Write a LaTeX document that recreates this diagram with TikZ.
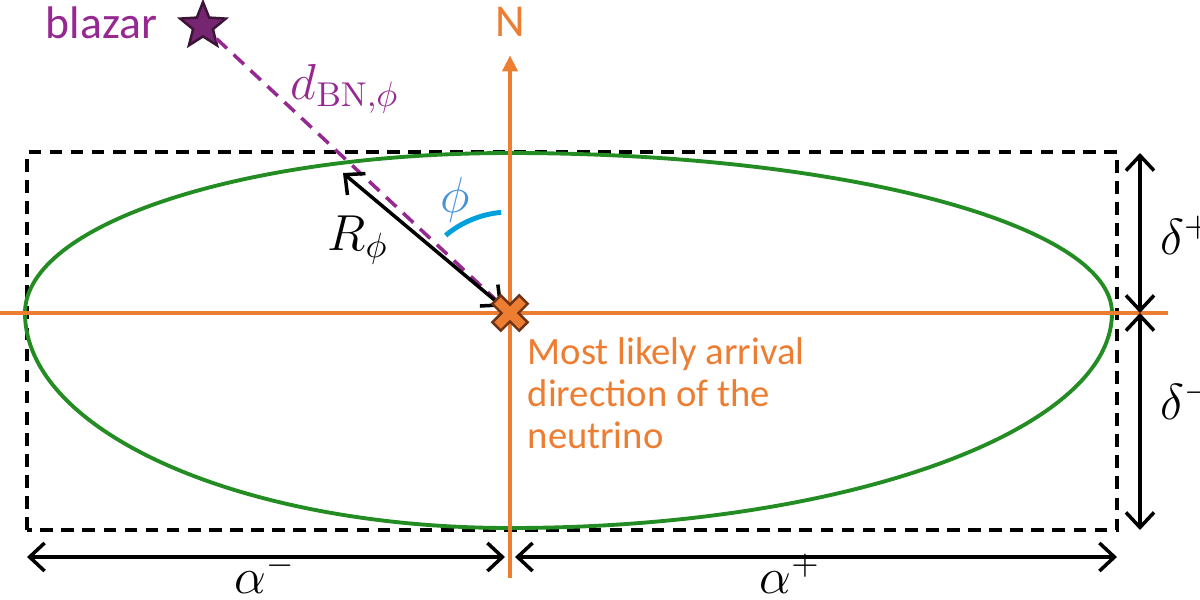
\documentclass[tikz,border=0pt]{standalone}
\usepackage{fontspec}
\setmainfont{Carlito}
\setmathrm{Latin Modern Roman}
\usetikzlibrary{arrows.meta,shapes.geometric,calc}
\definecolor{nuorange}{RGB}{237,125,49}
\definecolor{nuorangedark}{RGB}{110,50,20}
\definecolor{blzpurple}{RGB}{150,40,145}
\definecolor{blzstar}{RGB}{118,38,112}
\definecolor{blzstardark}{RGB}{60,20,55}
\definecolor{ellgreen}{RGB}{35,140,35}
\definecolor{phiblue}{RGB}{70,145,220}
\definecolor{arcblue}{RGB}{0,160,220}

\begin{document}
\begin{tikzpicture}[
    dimarrow/.style={draw=black, line width=1pt, {Straight Barb[length=1.5mm,width=2.8mm]}-{Straight Barb[length=1.5mm,width=2.8mm]}},
    axis/.style={draw=nuorange, line width=1.1pt},
    mathlabel/.style={font=\fontsize{14}{16}\selectfont, inner sep=1pt},
    sanslabel/.style={font=\fontsize{13}{15}\selectfont, inner sep=0pt}
]
    \useasboundingbox (0,0) rectangle (12,5.99);

    % Punkte
    \coordinate (nu) at (5.10,2.86);
    \coordinate (boxsw) at (0.27,0.69);
    \coordinate (boxne) at (11.17,4.47);
    \coordinate (rtip) at (3.43,4.26);

    % Box und Ellipse
    \draw[black, line width=1.1pt, dash pattern=on 3.6pt off 2.4pt] (boxsw) rectangle (boxne);
    \draw[ellgreen, line width=1.1pt] (11.12,2.86)
        arc[start angle=0, end angle=90, x radius=6.02, y radius=1.60]
        arc[start angle=90, end angle=180, x radius=4.85, y radius=1.60]
        arc[start angle=180, end angle=270, x radius=4.85, y radius=2.15]
        arc[start angle=270, end angle=360, x radius=6.02, y radius=2.15];

    % Achsen
    \coordinate (west) at (0,2.86);
    \coordinate (east) at (11.68,2.86);
    \coordinate (south) at (5.10,0.21);
    \node[sanslabel, text=nuorange] (north) at (5.10,5.77) {N};
    \draw[axis] (west) -- (east);
    \draw[axis, -{Triangle[length=1.6mm,width=1.5mm]}] (south) -- ([yshift=-0.18cm]north.south);

    % Blazar
    \node[star, star points=5, star point ratio=2.3, minimum size=0.48cm, inner sep=0pt,
          fill=blzstar, draw=blzstardark, line width=0.7pt] (blazar) at (2.03,5.73) {};
    \node[sanslabel, text=blzpurple, anchor=east] (blazarlabel) at (1.58,5.76) {blazar};
    \draw[blzpurple, line width=1pt, dash pattern=on 4pt off 2.6pt] (blazar) -- (nu);
    \node[mathlabel, text=blzpurple] (dlabel) at (3.45,5.10) {$d_{\mathrm{BN},\phi}$};

    % Radius und Winkel
    \draw[dimarrow, shorten >=0.1cm] (rtip) -- (nu);
    \node[mathlabel] (rlabel) at (3.58,3.59) {$R_\phi$};
    \draw[arcblue, line width=1.4pt] ($(nu)+(95:1.01)$) arc[start angle=95, end angle=130, radius=1.0];
    \node[mathlabel, text=phiblue] (philabel) at (4.55,3.99) {$\phi$};

    % Kreuz
    \begin{scope}[shift={(nu)}, rotate=45]
        \filldraw[fill=nuorange, draw=nuorangedark, line width=0.7pt]
            (-0.06,0.19) -- (0.06,0.19) -- (0.06,0.06) -- (0.19,0.06) -- (0.19,-0.06) -- (0.06,-0.06)
            -- (0.06,-0.19) -- (-0.06,-0.19) -- (-0.06,-0.06) -- (-0.19,-0.06) -- (-0.19,0.06) -- (-0.06,0.06) -- cycle;
    \end{scope}
    \node[sanslabel, text=nuorange, anchor=north west, align=left,
          font=\fontsize{11}{12}\selectfont] (nulabel) at (5.27,2.62)
        {Most likely arrival\\direction of the\\neutrino};

    % Masse rechts
    \coordinate (dtop) at (11.40,4.46);
    \coordinate (dmid) at (11.40,2.86);
    \coordinate (dbot) at (11.40,0.69);
    \draw[dimarrow] (dtop) -- (dmid);
    \draw[dimarrow] (dmid) -- (dbot);
    \node[mathlabel, anchor=west] (dplus) at (11.56,3.64) {$\delta^+$};
    \node[mathlabel, anchor=west] (dminus) at (11.56,1.99) {$\delta^-$};

    % Masse unten
    \coordinate (aleft) at (0.27,0.42);
    \coordinate (amidl) at (5.05,0.42);
    \coordinate (amidr) at (5.15,0.42);
    \coordinate (aright) at (11.17,0.42);
    \draw[dimarrow] (aleft) -- (amidl);
    \draw[dimarrow] (amidr) -- (aright);
    \node[mathlabel, anchor=base] (aminus) at (2.65,0.06) {$\alpha^-$};
    \node[mathlabel, anchor=base] (aplus) at (7.90,0.06) {$\alpha^+$};
\end{tikzpicture}
\end{document}
